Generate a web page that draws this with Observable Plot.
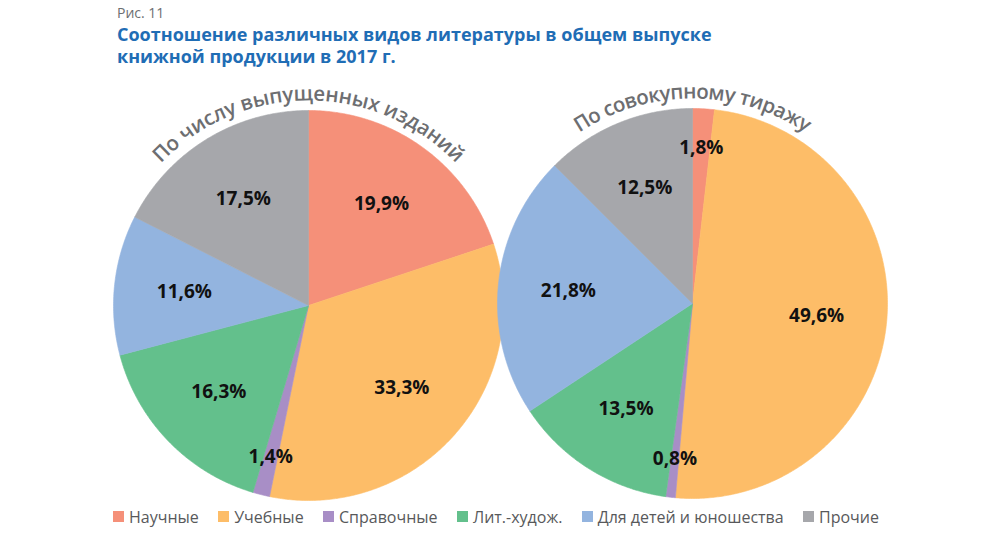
<!DOCTYPE html>
<html>
<head>
<meta charset="utf-8">
<script src="https://cdn.jsdelivr.net/npm/d3@7"></script>
<script src="https://cdn.jsdelivr.net/npm/@observablehq/plot@0.6"></script>
<style>
  body { margin: 0; background: #fff; font-family: "Open Sans", sans-serif; }
  #page { position: relative; width: 1000px; height: 536px; overflow: hidden; }
  #head { position: absolute; left: 117px; top: 4px; }
  .fig { font-size: 14px; line-height: 18px; color: #6d6e71; }
  h1 { margin: 1px 0 0 0; font-size: 18px; line-height: 22px; font-weight: 700; color: #1f6db5; }
  #chart { position: absolute; left: 0; top: 72px; }
  #legend { position: absolute; left: 113px; top: 500px; width: 766px; }
  #legend .leg-swatches { margin: 0; font-family: "Open Sans", sans-serif; font-size: 16px; color: #58595b; }
  #legend .leg-swatches-wrap { justify-content: space-between; flex-wrap: nowrap; }
  #legend .leg-swatch { margin-right: 0; }
  #legend .leg-swatch > svg { margin-right: 5px; }
</style>
</head>
<body>
<div id="page">
  <div id="head">
    <div class="fig">Рис. 11</div>
    <h1>Соотношение различных видов литературы в общем выпуске<br>книжной продукции в 2017 г.</h1>
  </div>
  <div id="chart"></div>
  <div id="legend"></div>
</div>
<script>
// Kinds of literature, in the order the slices run clockwise from 12 o'clock
const categories = ["Научные", "Учебные", "Справочные", "Лит.-худож.", "Для детей и юношества", "Прочие"];
const colors = ["#f59079", "#fdbd68", "#a88ec6", "#63c08c", "#93b4df", "#a6a7ab"];

// Share of each kind, %
const byEditions = [19.9, 33.3, 1.4, 16.3, 11.6, 17.5];     // by number of titles
const byCirculation = [1.8, 49.6, 0.8, 13.5, 21.8, 12.5];   // by total print run

const pieTitles = ["По числу выпущенных изданий", "По совокупному тиражу"];

// Layout (SVG pixel units)
const W = 1000, H = 434;
const R = 195;                 // pie radius
const RT = 205;                // baseline radius of the arched titles
const titleFont = 20.5;
const pies = [
  {title: pieTitles[0], values: byEditions, cx: 308, cy: 233, arc: 330},
  {title: pieTitles[1], values: byCirculation, cx: 692, cy: 231, arc: 240}
];

const fmt = v => v.toFixed(1).replace(".", ",") + "%";

// Each slice is a closed polygon: centre -> arc -> centre
const slices = [];
const labels = [];
pies.forEach((p, pi) => {
  const total = d3.sum(p.values);
  let acc = 0;
  p.values.forEach((v, i) => {
    const a0 = acc / total * 2 * Math.PI;
    acc += v;
    const a1 = acc / total * 2 * Math.PI;
    const id = `${pi}-${i}`;
    const n = Math.max(2, Math.ceil((a1 - a0) / (Math.PI / 360)));
    slices.push({id, cat: categories[i], x: p.cx, y: p.cy});
    for (let k = 0; k <= n; ++k) {
      const a = a0 + (a1 - a0) * k / n;
      slices.push({id, cat: categories[i], x: p.cx + R * Math.sin(a), y: p.cy - R * Math.cos(a)});
    }
    slices.push({id, cat: categories[i], x: p.cx, y: p.cy});
    const am = (a0 + a1) / 2;
    const rf = v < 3 ? 0.8 : 0.64;
    labels.push({x: p.cx + R * rf * Math.sin(am), y: p.cy - R * rf * Math.cos(am), text: fmt(v)});
  });
});

// Arched titles: one glyph per text element, set along a circle over each pie
const ctx = document.createElement("canvas").getContext("2d");
ctx.font = `600 ${titleFont}px "Open Sans"`;
const glyphs = [];
pies.forEach(p => {
  const chars = Array.from(p.title);
  const widths = chars.map(c => ctx.measureText(c).width);
  const natural = d3.sum(widths);
  const spacing = (p.arc - natural) / (chars.length - 1);
  let s = -p.arc / 2;
  chars.forEach((c, i) => {
    const mid = s + widths[i] / 2;
    const th = mid / RT;
    const r = RT + 0.32 * titleFont;
    glyphs.push({ch: c, x: p.cx + r * Math.sin(th), y: p.cy - r * Math.cos(th), rot: th * 180 / Math.PI});
    s += widths[i] + spacing;
  });
});

const chart = Plot.plot({
  width: W,
  height: H,
  margin: 0,
  x: {domain: [0, W], range: [0, W], axis: null},
  y: {domain: [0, H], range: [0, H], axis: null},
  color: {domain: categories, range: colors},
  style: {background: "transparent", overflow: "visible", fontFamily: "Open Sans, sans-serif"},
  marks: [
    Plot.line(slices, {x: "x", y: "y", z: "id", fill: "cat", stroke: "cat", strokeWidth: 0.6, curve: "linear"}),
    Plot.text(labels, {x: "x", y: "y", text: "text", fontSize: 19, fontWeight: 700, fill: "#111", textAnchor: "middle", lineAnchor: "middle"}),
    Plot.text(glyphs, {x: "x", y: "y", text: "ch", rotate: "rot", fontSize: titleFont, fontWeight: 600, fill: "#6d6e71", textAnchor: "middle", lineAnchor: "middle"})
  ]
});

document.getElementById("chart").append(chart);

const legend = chart.legend("color", {swatchSize: 11, className: "leg"});
document.getElementById("legend").append(legend);
</script>
</body>
</html>
